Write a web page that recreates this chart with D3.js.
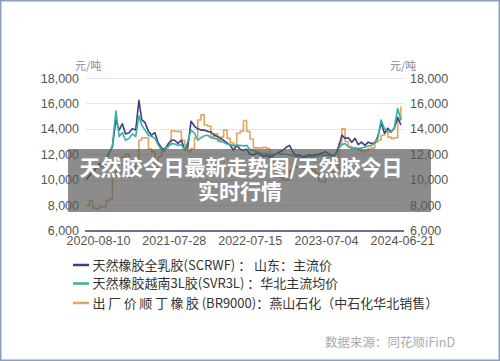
<!DOCTYPE html>
<html><head><meta charset="utf-8">
<script src="https://cdn.jsdelivr.net/npm/d3@7"></script>
<style>
html,body{margin:0;padding:0;background:#fff;}
svg{display:block;}
</style></head>
<body>
<svg id="c" width="500" height="361"></svg>
<script>
const dates = ["2020-06-16","2020-07-01","2020-07-16","2020-08-01","2020-08-16","2020-09-01","2020-09-16","2020-10-01","2020-10-16","2020-11-01","2020-11-16","2020-12-01","2020-12-16",
"2021-01-01","2021-01-16","2021-02-01","2021-02-16","2021-03-01","2021-03-16","2021-04-01","2021-04-16","2021-05-01","2021-05-16","2021-06-01","2021-06-16","2021-07-01","2021-07-16","2021-08-01","2021-08-16","2021-09-01","2021-09-16","2021-10-01","2021-10-16","2021-11-01","2021-11-16","2021-12-01","2021-12-16",
"2022-01-01","2022-01-16","2022-02-01","2022-02-16","2022-03-01","2022-03-16","2022-04-01","2022-04-16","2022-05-01","2022-05-16","2022-06-01","2022-06-16","2022-07-01","2022-07-16","2022-08-01","2022-08-16","2022-09-01","2022-09-16","2022-10-01","2022-10-16","2022-11-01","2022-11-16","2022-12-01","2022-12-16",
"2023-01-01","2023-01-16","2023-02-01","2023-02-16","2023-03-01","2023-03-16","2023-04-01","2023-04-16","2023-05-01","2023-05-16","2023-06-01","2023-06-16","2023-07-01","2023-07-16","2023-08-01","2023-08-16","2023-09-01","2023-09-16","2023-10-01","2023-10-16","2023-11-01","2023-11-16","2023-12-01","2023-12-16",
"2024-01-01","2024-01-16","2024-02-01","2024-02-16","2024-03-01","2024-03-16","2024-04-01","2024-04-16","2024-05-01","2024-05-16","2024-06-01","2024-06-16"];

const scrwf = [10000,10300,10600,10900,11250,11100,11600,12100,12600,14700,13900,14400,13600,
13700,14000,13900,16250,14700,14500,13800,13500,13700,12900,12500,12350,12800,13100,13100,12850,13100,12350,12600,14600,14200,14000,13900,13900,
13800,13750,13500,13400,13250,13100,12900,12700,12300,12700,12400,12300,12400,12000,11950,12100,12000,11850,11900,11750,11900,12050,12200,12300,
12550,12700,12150,11900,11950,11800,11850,11950,11900,11950,12000,12100,12200,12050,11900,11950,12600,13500,13250,13300,12950,13250,12750,12950,
12700,12950,12850,12900,13400,14450,13650,14050,13750,14050,14900,14300];

const svr3l = [null,null,null,null,11100,11000,11500,12100,12700,15400,13400,13700,13100,
13250,13600,13400,15000,14300,13900,13500,13400,13250,12750,12350,12400,12600,12850,12800,12700,12750,12350,13000,13900,13650,13100,13300,13450,
13500,13300,13250,13200,13000,12950,12800,12750,12700,12700,12700,12650,12700,12400,12300,12200,12100,12050,12050,11950,12000,12050,12050,12000,
12000,11950,11900,11800,11750,11700,11750,11800,11750,11800,11850,11900,11950,11900,11850,11900,12450,12750,12850,12600,12450,12500,12450,12500,
12550,12650,12700,12900,13300,14700,14000,13800,13750,14050,15600,14700];

const br9000 = [7950,8350,7750,7700,7850,7850,8350,8500,10300,11200,11700,11800,12000,
10200,10800,11700,13100,13300,13300,12400,12200,10800,11800,12200,12500,12750,13850,13800,13800,13100,12700,12200,12450,13300,14700,15100,14300,
14200,13400,13600,13000,13350,13900,13250,12900,12600,13650,13800,14650,13800,13200,12500,12500,12500,12550,12450,11700,11200,10300,10150,9950,
10050,10700,11000,11000,11100,10900,10800,10900,10700,10500,9850,9800,10500,10600,10600,10700,12800,14000,13000,12600,12500,12450,12350,12200,
12300,12450,12500,12950,13100,13500,13750,13350,13250,13300,14700,15750];

const seriesNames = ["天然橡胶全乳胶(SCRWF) ： 山东：主流价","天然橡胶越南3L胶(SVR3L) ：华北主流均价","出厂价顺丁橡胶(BR9000)：燕山石化（中石化华北销售）"];
const seriesColors = ["#3c3f80","#35b0a2","#e3a45e"];
const yTicks = [6000,8000,10000,12000,14000,16000,18000];
const xTickLabels = ["2020-08-10","2021-07-28","2022-07-15","2023-07-04","2024-06-21"];
const unitLabel = "元/吨";
const titleLines = ["天然胶今日最新走势图/天然胶今日","实时行情"];
const sourceText = "数据来源：同花顺iFinD";

const parse = d3.timeParse("%Y-%m-%d");
const svg = d3.select("#c");
const W = 500, H = 361;
const plotL = 86, plotR = 404;

const x = d3.scaleTime().domain([parse(xTickLabels[0]), parse(xTickLabels[4])]).range([98, 402]);
const y = d3.scaleLinear().domain([6000, 18000]).range([230.5, 78]);

const font = "'Liberation Sans','Noto Sans CJK SC',sans-serif";
const cjk = "'Noto Sans CJK SC','Noto Sans',sans-serif";

// frame
svg.append("rect").attr("x",0.75).attr("y",0.75).attr("width",W-1.5).attr("height",H-1.5)
  .attr("fill","#fff").attr("stroke","#8c9ec4").attr("stroke-width",1.5);

// grid
svg.append("g").selectAll("line").data(yTicks.slice(1)).join("line")
  .attr("x1",plotL).attr("x2",plotR).attr("y1",d=>Math.round(y(d))+0.5).attr("y2",d=>Math.round(y(d))+0.5)
  .attr("stroke","#e4e4e4").attr("stroke-width",1);

// left / right axis labels
const left = svg.append("g").attr("transform",`translate(79,0)`)
  .call(d3.axisLeft(y).tickValues(yTicks).tickSize(0).tickPadding(0).tickFormat(d3.format(",")));
left.select(".domain").remove();
left.selectAll("text").attr("font-family",font).attr("font-size",12.5).attr("fill","#555");

const right = svg.append("g").attr("transform",`translate(410,0)`)
  .call(d3.axisRight(y).tickValues(yTicks).tickSize(0).tickPadding(0).tickFormat(d3.format(",")));
right.select(".domain").remove();
right.selectAll("text").attr("font-family",font).attr("font-size",12.5).attr("fill","#555");

// baseline
svg.append("line").attr("x1",plotL-1).attr("x2",plotR).attr("y1",y(6000)+0.5).attr("y2",y(6000)+0.5)
  .attr("stroke","#6c6f8e").attr("stroke-width",2);

// x axis
const bottom = svg.append("g").attr("transform",`translate(0,${y(6000)+3})`)
  .call(d3.axisBottom(x).tickValues(xTickLabels.map(parse)).tickSize(0).tickPadding(3).tickFormat(d3.timeFormat("%Y-%m-%d")));
bottom.select(".domain").remove();
bottom.selectAll("text").attr("font-family",font).attr("font-size",12.5).attr("fill","#555");

// unit labels
svg.append("text").attr("x",75).attr("y",70).text(unitLabel).attr("font-family",cjk).attr("font-size",11).attr("fill","#888");
svg.append("text").attr("x",390).attr("y",70).text(unitLabel).attr("font-family",cjk).attr("font-size",11).attr("fill","#888");

// lines: orange at bottom, then navy, teal on top
const order = [
  {vals: br9000, color: seriesColors[2], curve: d3.curveStepAfter},
  {vals: scrwf,  color: seriesColors[0], curve: d3.curveLinear},
  {vals: svr3l,  color: seriesColors[1], curve: d3.curveLinear}
];
order.forEach(s=>{
  const pts = dates.map((d,j)=>({d:parse(d), v:s.vals[j]}));
  const line = d3.line().defined(p=>p.v!=null).x(p=>x(p.d)).y(p=>y(p.v)).curve(s.curve);
  svg.append("path").datum(pts).attr("d",line).attr("fill","none")
    .attr("stroke",s.color).attr("stroke-width",1.6).attr("stroke-linejoin","round");
});

// legend
const lg = svg.append("g");
const rowsY = [265, 283.5, 303];
seriesNames.forEach((n,i)=>{
  lg.append("line").attr("x1",73).attr("x2",89).attr("y1",rowsY[i]).attr("y2",rowsY[i])
    .attr("stroke",seriesColors[i]).attr("stroke-width",2.5);
  const t = lg.append("text").attr("x",92.5).attr("y",rowsY[i]+4.5)
    .attr("font-family",cjk).attr("font-size",13).attr("fill","#333");
  if (i === 2) {
    const k = n.indexOf("(");
    t.append("tspan").attr("letter-spacing",2.6).text(n.slice(0,k));
    t.append("tspan").text(n.slice(k));
  } else {
    t.text(n);
  }
});

// source
svg.append("text").attr("x",455).attr("y",347).attr("text-anchor","end").text(sourceText)
  .attr("font-family",cjk).attr("font-size",12.5).attr("fill","#aaa");

// overlay
svg.append("rect").attr("x",68).attr("y",149).attr("width",363).attr("height",63)
  .attr("fill","rgb(85,85,85)").attr("fill-opacity",0.68);
svg.append("text").attr("x",241).attr("y",175).attr("text-anchor","middle").text(titleLines[0])
  .attr("font-family",cjk).attr("font-weight",700).attr("font-size",21).attr("fill","#fff");
svg.append("text").attr("x",240).attr("y",199).attr("text-anchor","middle").text(titleLines[1])
  .attr("font-family",cjk).attr("font-weight",700).attr("font-size",21).attr("fill","#fff");
</script>
</body></html>
